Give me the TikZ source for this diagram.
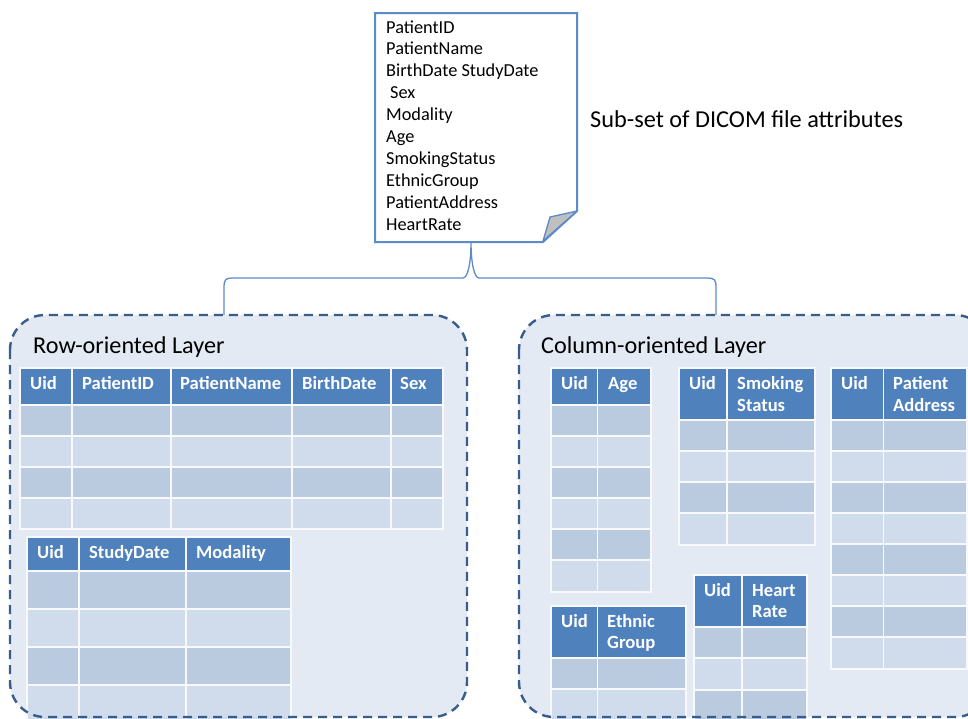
\documentclass[tikz,border=0pt]{standalone}
\usepackage{fontspec}
\setmainfont{Carlito}
\begin{document}
\definecolor{hdrc}{HTML}{4F81BD}
\definecolor{drkc}{HTML}{BACADF}
\definecolor{lgtc}{HTML}{D0DCEB}
\definecolor{panelc}{HTML}{E3EAF4}
\definecolor{dashc}{HTML}{385D8A}
\definecolor{docc}{HTML}{5B8BC8}
\newcommand\dtable[4]{%
  \foreach \xa/\xb in {#1} {\path[cell,fill=hdrc] (\xa,#2) rectangle (\xb,#3);}
  \foreach \ya/\yb [count=\i] in {#4} {%
    \ifodd\i\relax\colorlet{rowc}{drkc}\else\colorlet{rowc}{lgtc}\fi
    \foreach \xa/\xb in {#1} {\path[cell,fill=rowc] (\xa,\ya) rectangle (\xb,\yb);}
  }%
}
\begin{tikzpicture}[x=1pt,y=-1pt,
  cell/.style={draw=white!70!panelc,line width=1.2pt},
  panel/.style={fill=panelc,rounded corners=35pt},
  dashborder/.style={draw=dashc,line width=2.4pt,dash pattern=on 9pt off 6pt,rounded corners=35pt},
  doctext/.style={anchor=base west,inner sep=0pt,font=\fontsize{18.3}{22}\selectfont},
  hdrtext/.style={anchor=base west,inner sep=0pt,text=white,font=\fontsize{18.6}{22}\selectfont\bfseries},
  title/.style={anchor=base west,inner sep=0pt,font=\fontsize{24.2}{28}\selectfont},
  brace/.style={draw=docc,line width=1.3pt}]
\useasboundingbox (0,0) rectangle (968,718);
% document
\draw[docc,line width=2pt,fill=white,line join=miter] (375,13) -- (577,13) -- (577,211) -- (543,242) -- (375,242) -- cycle;
\draw[docc,line width=1.3pt,fill=black!25,line join=round] (577,211) -- (550,217) -- (543,241) -- cycle;
\foreach \t/\xo [count=\k] in {PatientID/386,PatientName/386,BirthDate StudyDate/386,Sex/390,Modality/386,Age/386,SmokingStatus/386,EthnicGroup/386,PatientAddress/386,HeartRate/386}
  \node[doctext] (d\k) at (\xo,{33+21.9*(\k-1)}) {\t};
\node[title,font=\fontsize{24.3}{28}\selectfont] (sub) at (590,127) {Sub-set of DICOM file attributes};
% brace
\coordinate (docb) at (471,242);
\coordinate (lp) at (224,315);
\coordinate (rp) at (716,315);
\draw[brace] (lp) -- (224,286) .. controls (224,280) and (226,278) .. (232,278) -- (463,278)
  .. controls (468,278) and (471,262) .. (docb)
  .. controls (471,262) and (474,278) .. (479,278) -- (708,278)
  .. controls (714,278) and (716,280) .. (716,286) -- (rp);
% panels
\path[panel] (10,315) rectangle (467,717);
\path[panel] (519,315) rectangle (990,717);
\node[title] (rowt) at (33,353) {Row-oriented Layer};
\node[title] (colt) at (541,353) {Column-oriented Layer};
% row tables
\dtable{20/72,72/171,171/292,292/391,391/443}{368}{405}{405/436,436/467,467/498,498/529}
\node[hdrtext] (r1a) at (30,389) {Uid};
\node[hdrtext] (r1b) at (82,389) {PatientID};
\node[hdrtext] (r1c) at (180,389) {PatientName};
\node[hdrtext] (r1d) at (302,389) {BirthDate};
\node[hdrtext] (r1e) at (400,389) {Sex};
\dtable{27/79,79/186,186/291}{537}{571}{571/609,609/647,647/685,685/725}
\node[hdrtext] (r2a) at (37,558) {Uid};
\node[hdrtext] (r2b) at (89,558) {StudyDate};
\node[hdrtext] (r2c) at (196,558) {Modality};
% column tables
\dtable{551/597.5,597.5/651}{368}{405}{405/436,436/467,467/498,498/529,529/560,560/592}
\node[hdrtext] (c1a) at (561,389) {Uid};
\node[hdrtext] (c1b) at (608,389) {Age};
\dtable{679/727,727/815}{368}{420}{420/451,451/482,482/513,513/545}
\node[hdrtext] (c2a) at (689,389) {Uid};
\node[hdrtext] (c2b) at (737,389) {Smoking};
\node[hdrtext] (c2c) at (737,411) {Status};
\dtable{831/883.5,883.5/967}{368}{420}{420/451,451/482,482/513,513/544,544/575,575/606,606/637,637/669}
\node[hdrtext] (c3a) at (841,389) {Uid};
\node[hdrtext] (c3b) at (893,389) {Patient};
\node[hdrtext] (c3c) at (893,411) {Address};
\dtable{551/597.5,597.5/686}{606}{658}{658/689,689/725}
\node[hdrtext] (c4a) at (561,627) {Uid};
\node[hdrtext] (c4b) at (607,627) {Ethnic};
\node[hdrtext] (c4c) at (607,648) {Group};
\dtable{694/742,742/807}{575}{627}{627/658,658/690,690/725}
\node[hdrtext] (c5a) at (704,596) {Uid};
\node[hdrtext] (c5b) at (752,596) {Heart};
\node[hdrtext] (c5c) at (752,617) {Rate};
% dashed borders
\path[dashborder] (10,315) rectangle (467,717);
\path[dashborder] (519,315) rectangle (990,717);
\end{tikzpicture}
\end{document}
